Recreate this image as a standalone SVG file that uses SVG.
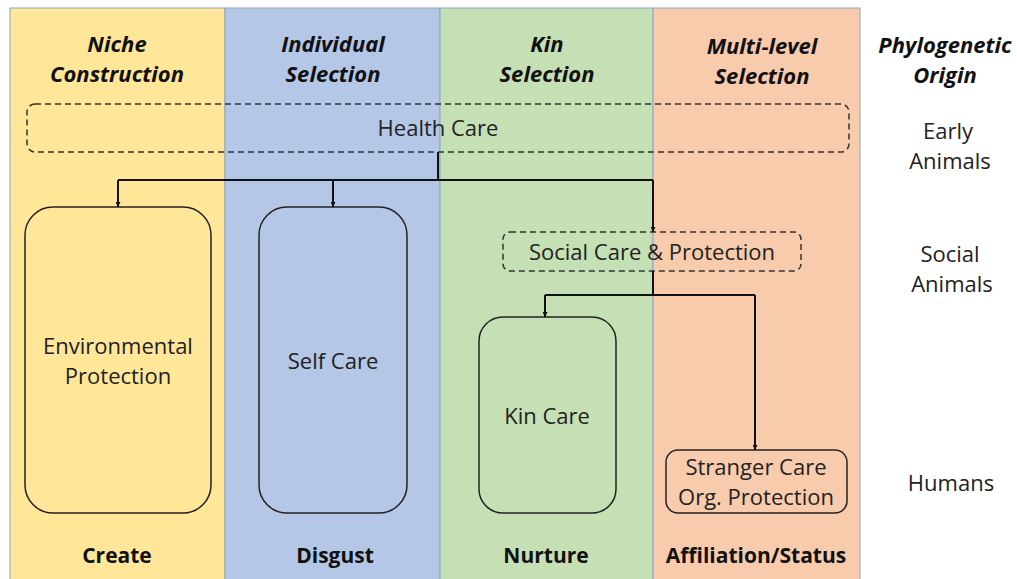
<svg xmlns="http://www.w3.org/2000/svg" width="1017" height="579" viewBox="0 0 1017 579">
<defs>
<style>
.col{stroke:#8FA6BF;stroke-width:1}
.hd{font-family:"Open Sans","Liberation Sans",sans-serif;font-weight:bold;font-style:italic;font-size:22px;fill:#111;text-anchor:middle}
.ft{font-family:"Open Sans","Liberation Sans",sans-serif;font-weight:bold;font-size:21px;fill:#111;text-anchor:middle}
.tx{font-family:"Open Sans","Liberation Sans",sans-serif;font-size:22px;fill:#222;text-anchor:middle}
.box{fill:none;stroke:#222;stroke-width:1.5}
.dash{fill:none;stroke:#333;stroke-width:1.5;stroke-dasharray:6 4}
.ln{fill:none;stroke:#111;stroke-width:2}
</style>
<marker id="ah" viewBox="0 0 10 10" refX="10" refY="5" markerWidth="5" markerHeight="5" orient="auto" markerUnits="userSpaceOnUse">
<path d="M0,0 L10,5 L0,10 z" fill="#111"/>
</marker>
</defs>
<rect width="1017" height="579" fill="#fff"/>
<g id="columns">
<rect class="col" x="10" y="8" width="215" height="575" fill="#FFE699"/>
<rect class="col" x="225" y="8" width="215" height="575" fill="#B4C7E7"/>
<rect class="col" x="440" y="8" width="213" height="575" fill="#C5E0B4"/>
<rect class="col" x="653" y="8" width="207" height="575" fill="#F8CBAD"/>
</g>
<g id="headers">
<text class="hd" x="117" y="52">Niche</text>
<text class="hd" x="117" y="82">Construction</text>
<text class="hd" x="333" y="52">Individual</text>
<text class="hd" x="333" y="82">Selection</text>
<text class="hd" x="547" y="52">Kin</text>
<text class="hd" x="547" y="82">Selection</text>
<text class="hd" x="762" y="54">Multi-level</text>
<text class="hd" x="762" y="84">Selection</text>
<text class="hd" x="945" y="53">Phylogenetic</text>
<text class="hd" x="945" y="83">Origin</text>
</g>
<g id="origins">
<text class="tx" x="948" y="139">Early</text>
<text class="tx" x="950" y="169">Animals</text>
<text class="tx" x="950" y="262">Social</text>
<text class="tx" x="952" y="292">Animals</text>
<text class="tx" x="951" y="491">Humans</text>
</g>
<g id="health-care">
<rect class="dash" x="27" y="104" width="822" height="48" rx="8"/>
<text class="tx" x="438" y="136">Health Care</text>
</g>
<g id="environmental-protection">
<rect class="box" x="25" y="207" width="186" height="306" rx="28"/>
<text class="tx" x="118" y="354">Environmental</text>
<text class="tx" x="118" y="384">Protection</text>
</g>
<g id="self-care">
<rect class="box" x="259" y="207" width="148" height="306" rx="28"/>
<text class="tx" x="333" y="369">Self Care</text>
</g>
<g id="social-care">
<rect class="dash" x="503" y="232" width="298" height="39" rx="7"/>
<text class="tx" x="652" y="260">Social Care &amp; Protection</text>
</g>
<g id="kin-care">
<rect class="box" x="479" y="317" width="137" height="196" rx="24"/>
<text class="tx" x="547" y="424">Kin Care</text>
</g>
<g id="stranger-care">
<rect class="box" x="666" y="450" width="181" height="63" rx="12"/>
<text class="tx" x="756" y="475">Stranger Care</text>
<text class="tx" x="756" y="505">Org. Protection</text>
</g>
<g id="footers">
<text class="ft" x="117" y="563">Create</text>
<text class="ft" x="335" y="563">Disgust</text>
<text class="ft" x="546" y="563">Nurture</text>
<text class="ft" x="756" y="563">Affiliation/Status</text>
</g>
<g id="connectors">
<path class="ln" d="M438,152 V180"/>
<path class="ln" d="M118,180 H653"/>
<path class="ln" d="M118,180 V207" marker-end="url(#ah)"/>
<path class="ln" d="M333,180 V207" marker-end="url(#ah)"/>
<path class="ln" d="M653,180 V232" marker-end="url(#ah)"/>
<path class="ln" d="M653,271 V295"/>
<path class="ln" d="M545,295 H755"/>
<path class="ln" d="M545,295 V317" marker-end="url(#ah)"/>
<path class="ln" d="M755,295 V450" marker-end="url(#ah)"/>
</g>
</svg>
